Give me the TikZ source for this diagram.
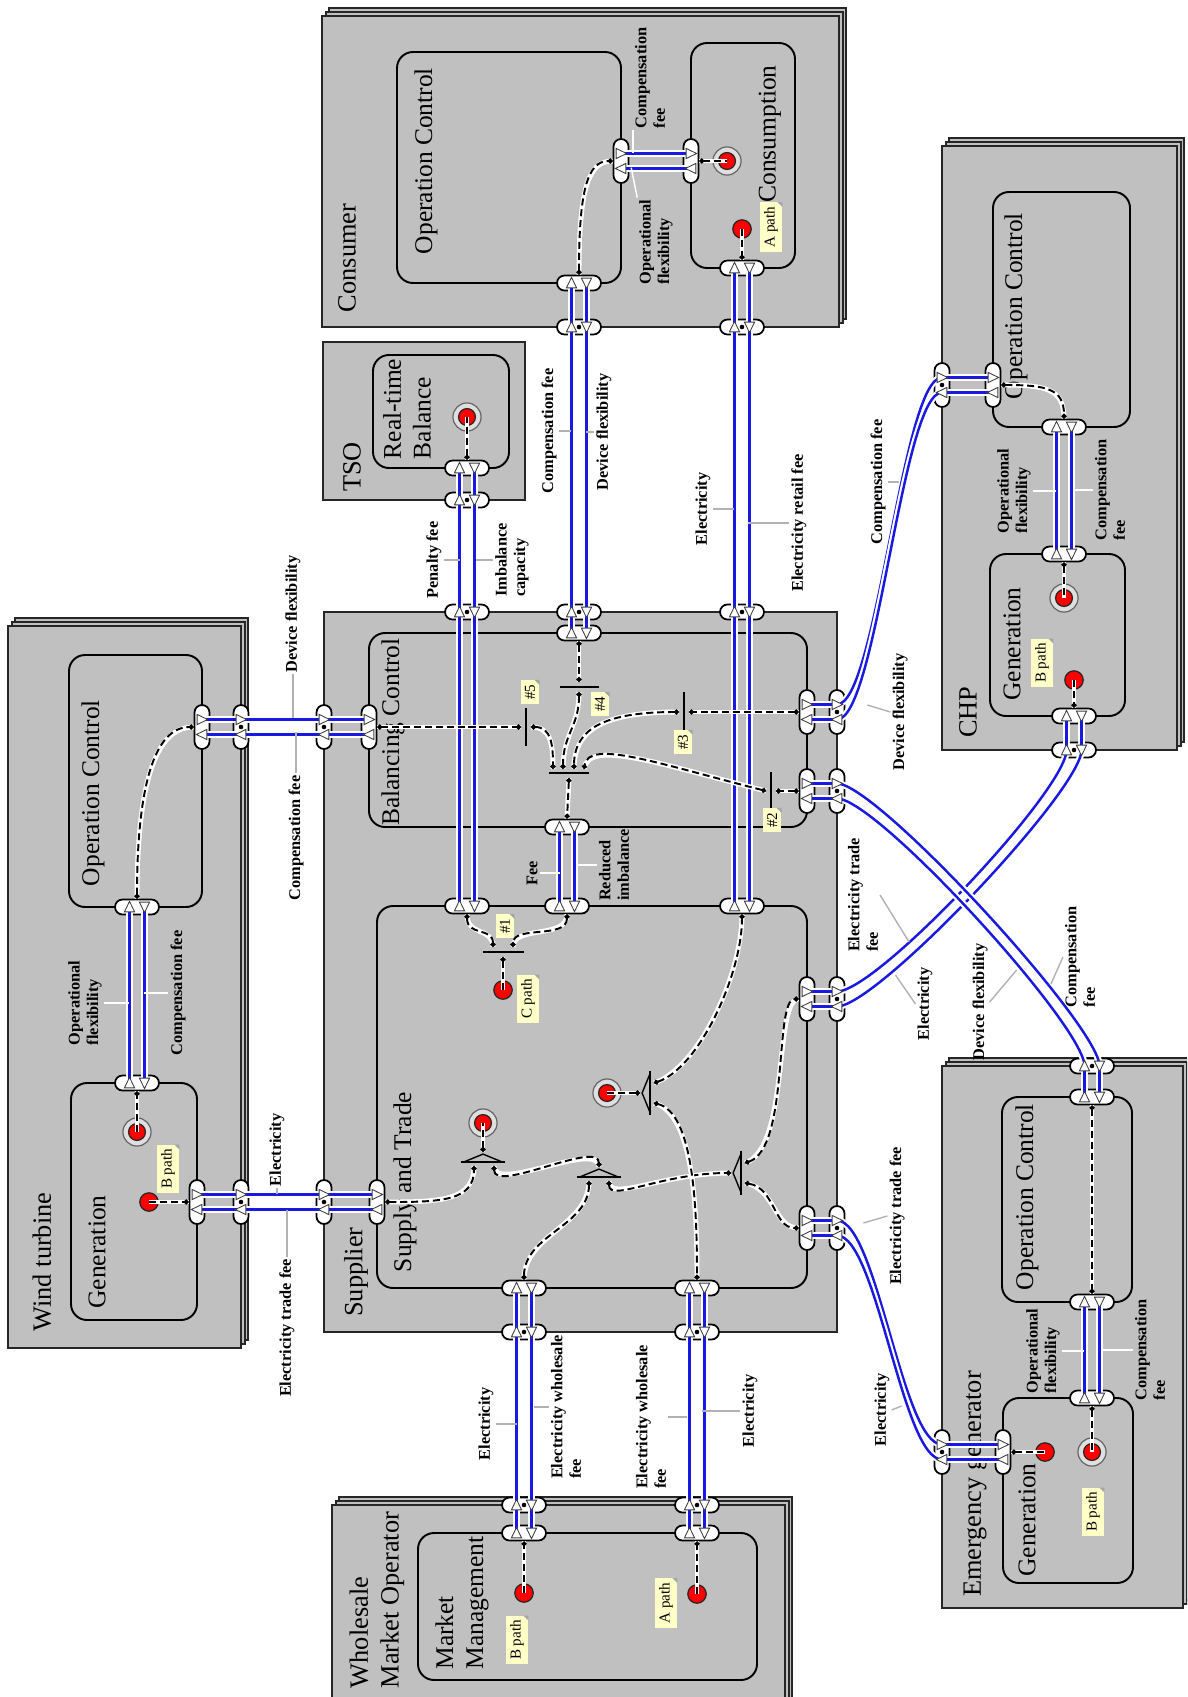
\documentclass[tikz,border=0pt]{standalone}
\usepackage{fontspec}
\setmainfont{Liberation Serif}
\usetikzlibrary{arrows.meta}

\definecolor{boxgray}{RGB}{192,192,192}
\definecolor{flowblue}{RGB}{25,25,225}
\definecolor{noteyellow}{RGB}{255,255,200}

\newlength{\flowgap}
\setlength{\flowgap}{0.15cm}

\tikzset{
  outerbox/.style={draw=black!85, line width=1pt, fill=boxgray},
  innerbox/.style={draw=black, line width=1.1pt, fill=boxgray, rounded corners=0.32cm},
  boxtitle/.style={rotate=90, font=\fontsize{15}{17.5}\selectfont, inner sep=0pt, align=left},
  subtitle/.style={rotate=90, font=\fontsize{14.5}{17}\selectfont, inner sep=0pt, align=left},
  hport/.style={draw=black, line width=1pt, fill=white, rounded corners=0.15cm,
    minimum width=0.88cm, minimum height=0.3cm, inner sep=0pt},
  vport/.style={hport, minimum width=0.3cm, minimum height=0.88cm},
  flow/.style={draw=flowblue, line width=1.4pt, preaction={draw=white, line width=3.8pt}},
  ctrl/.style={draw=black, line width=1.1pt, dash pattern=on 4pt off 2.2pt,
    preaction={draw=white, line width=2.8pt, solid, arrows=-}},
  dotboth/.style={arrows={Circle[length=2.8pt]-Circle[length=2.8pt]}},
  dotend/.style={arrows={-Circle[length=2.8pt]}},
  dotstart/.style={arrows={Circle[length=2.8pt]-}},
  mergebar/.style={draw=black, line width=1pt},
  startpt/.style={circle, fill=red, draw=black!85, line width=0.7pt, minimum size=10.5pt, inner sep=0pt},
  endpt/.style={circle, fill=gray!25, draw=black!60, line width=0.7pt, minimum size=16pt, inner sep=0pt,
    path picture={\draw[black!85, fill=red, line width=0.7pt] (path picture bounding box.center) circle (4.8pt);}},
  pathtag/.style={rotate=90, fill=noteyellow, font=\fontsize{8.6}{9.5}\selectfont, inner sep=2.4pt},
  flowlab/.style={rotate=90, font=\bfseries\fontsize{9.3}{10.5}\selectfont, align=left, inner sep=1pt},
  leadout/.style={draw=gray!60, line width=0.8pt},
  leadin/.style={draw=white, line width=0.8pt},
  flowtip/.pic={\filldraw[fill=white, draw=black!75, line width=0.5pt]
    (3.2pt,0pt) -- (-2.8pt,2.9pt) -- (-2.8pt,-2.9pt) -- cycle;},
  joinup/.pic={\draw[line width=0.8pt, fill=boxgray] (-11pt,0pt) -- (0pt,4.5pt) -- (11pt,0pt);
    \draw[line width=0.9pt] (-12.5pt,0pt) -- (12.5pt,0pt);}
}

\newcommand{\stackbox}[4]{%
  \draw[outerbox] (#1+7,#2-8) rectangle (#3+7,#4-8);
  \draw[outerbox] (#1+4,#2-4) rectangle (#3+4,#4-4);
  \draw[outerbox] (#1,#2) rectangle (#3,#4);}
\newcommand{\vflows}[2]{%
  \draw[flow] ([xshift=-\flowgap]#1.center) -- ([xshift=-\flowgap]#2.center);
  \draw[flow] ([xshift=\flowgap]#1.center) -- ([xshift=\flowgap]#2.center);}
\newcommand{\hflows}[2]{%
  \draw[flow] ([yshift=\flowgap]#1.center) -- ([yshift=\flowgap]#2.center);
  \draw[flow] ([yshift=-\flowgap]#1.center) -- ([yshift=-\flowgap]#2.center);}
\newcommand{\vtips}[1]{%
  \pic[rotate=90] at ([xshift=-\flowgap]#1.center) {flowtip};
  \pic[rotate=-90] at ([xshift=\flowgap]#1.center) {flowtip};}
\newcommand{\htips}[1]{%
  \pic at ([yshift=\flowgap]#1.center) {flowtip};
  \pic[rotate=180] at ([yshift=-\flowgap]#1.center) {flowtip};}
\newcommand{\portdot}[1]{\fill[black] (#1.center) circle (1.3pt);}
\newcommand{\pathnote}[4]{%
  \node[pathtag] (#1) at (#2,#3) {#4};
  \fill[gray!70] (#1.south east) -- ++(-5,0) -- ++(5,5) -- cycle;}

\begin{document}
\begin{tikzpicture}[x=0.02cm, y=-0.02cm]
\useasboundingbox (0,0) rectangle (1187,1697);
\clip (0,0) rectangle (1187,1697);
\fill[white] (0,0) rectangle (1187,1697);

% outer boxes
\stackbox{8}{626}{241}{1348}
\stackbox{322}{16}{839}{327}
\stackbox{942}{146}{1177}{750}
\stackbox{942}{1066}{1183}{1608}
\stackbox{332}{1505}{785}{1720}
\draw[outerbox] (324,612) rectangle (837,1332);
\draw[outerbox] (323,342) rectangle (525,500);

% inner boxes
\draw[innerbox] (69,655) rectangle (202,907);
\draw[innerbox] (71,1083) rectangle (197,1320);
\draw[innerbox] (369,633) rectangle (807,827);
\draw[innerbox] (377,906) rectangle (807,1288);
\draw[innerbox] (373,355) rectangle (509,468);
\draw[innerbox] (397,52) rectangle (621,283);
\draw[innerbox] (691,43) rectangle (795,268);
\draw[innerbox] (993,192) rectangle (1130,427);
\draw[innerbox] (990,554) rectangle (1125,716);
\draw[innerbox] (1002,1097) rectangle (1132,1302);
\draw[innerbox] (1003,1398) rectangle (1133,1583);
\draw[innerbox] (418,1533) rectangle (757,1680);

% titles
\node[boxtitle] (twt) at (42,1262) {Wind turbine};
\node[subtitle] (twtoc) at (93,793) {Operation Control};
\node[subtitle] (twtgen) at (97,1252) {Generation};
\node[boxtitle] (tsup) at (356,1272) {Supplier};
\node[subtitle] (tbc) at (393,732) {Balancing Control};
\node[subtitle] (tst) at (405,1182) {Supply and Trade};
\node[boxtitle] (ttso) at (352,467) {TSO};
\node[subtitle] (trtb) at (407,409) {Real-time\\Balance};
\node[boxtitle] (tcon) at (347,258) {Consumer};
\node[subtitle] (tcoc) at (426,161) {Operation Control};
\node[subtitle] (tcns) at (770,134) {Consumption};
\node[boxtitle] (tchp) at (968,712) {CHP};
\node[subtitle] (tchpoc) at (1016,306) {Operation Control};
\node[subtitle] (tchpgen) at (1012,644) {Generation};
\node[boxtitle] (teg) at (975,1484) {Emergency generator};
\node[subtitle] (tegoc) at (1027,1197) {Operation Control};
\node[subtitle] (teggen) at (1027,1520) {Generation};
\node[boxtitle] (twmo) at (377,1600) {Wholesale\\Market Operator};
\node[subtitle] (tmm) at (462,1603) {Market\\Management};

% ports on horizontal edges
\node[hport] (wtOCb) at (137,907) {};
\node[hport] (wtGt) at (137,1083) {};
\node[hport] (rtbB) at (467,468) {};
\node[hport] (tsoB) at (467,500) {};
\node[hport] (supT1) at (467,612) {};
\node[hport] (stT1) at (467,906) {};
\node[hport] (cocB) at (579,283) {};
\node[hport] (conB1) at (579,327) {};
\node[hport] (supT2) at (579,612) {};
\node[hport] (bcT) at (579,633) {};
\node[hport] (cnsB) at (742,268) {};
\node[hport] (conB2) at (742,327) {};
\node[hport] (supT3) at (742,612) {};
\node[hport] (stT3) at (742,906) {};
\node[hport] (bcB) at (567,827) {};
\node[hport] (stT2) at (567,906) {};
\node[hport] (stB1) at (524,1288) {};
\node[hport] (supB1) at (524,1332) {};
\node[hport] (wmoT1) at (524,1505) {};
\node[hport] (mmT1) at (524,1533) {};
\node[hport] (stB2) at (697,1288) {};
\node[hport] (supB2) at (697,1332) {};
\node[hport] (wmoT2) at (697,1505) {};
\node[hport] (mmT2) at (697,1533) {};
\node[hport] (chpOCb) at (1064,427) {};
\node[hport] (chpGt) at (1064,554) {};
\node[hport] (chpGb) at (1074,716) {};
\node[hport] (chpB) at (1074,750) {};
\node[hport] (egT) at (1092,1066) {};
\node[hport] (egOCt) at (1092,1097) {};
\node[hport] (egOCb) at (1092,1302) {};
\node[hport] (egGt) at (1092,1398) {};

% ports on vertical edges
\node[vport] (wtOCr) at (202,727) {};
\node[vport] (wtR1) at (241,727) {};
\node[vport] (supL1) at (324,727) {};
\node[vport] (bcL) at (369,727) {};
\node[vport] (wtGr) at (197,1202) {};
\node[vport] (wtR2) at (241,1202) {};
\node[vport] (supL2) at (324,1202) {};
\node[vport] (stL) at (377,1202) {};
\node[vport] (cocR) at (621,161) {};
\node[vport] (cnsL) at (691,161) {};
\node[vport] (bcR1) at (807,712) {};
\node[vport] (supR1) at (837,712) {};
\node[vport] (bcR2) at (807,791) {};
\node[vport] (supR2) at (837,791) {};
\node[vport] (stR1) at (807,999) {};
\node[vport] (supR3) at (837,999) {};
\node[vport] (stR2) at (807,1228) {};
\node[vport] (supR4) at (837,1228) {};
\node[vport] (chpL) at (942,385) {};
\node[vport] (chpOCl) at (993,385) {};
\node[vport] (egL) at (942,1452) {};
\node[vport] (egGl) at (1003,1452) {};

% flows
\vflows{wtOCb}{wtGt}
\vflows{rtbB}{stT1}
\vflows{cocB}{bcT}
\vflows{cnsB}{stT3}
\vflows{bcB}{stT2}
\vflows{stB1}{mmT1}
\vflows{stB2}{mmT2}
\vflows{chpOCb}{chpGt}
\vflows{chpGb}{chpB}
\vflows{egT}{egOCt}
\vflows{egOCb}{egGt}
\hflows{wtOCr}{bcL}
\hflows{wtGr}{stL}
\hflows{cocR}{cnsL}
\hflows{chpL}{chpOCl}
\hflows{egL}{egGl}
\hflows{bcR1}{supR1}
\hflows{bcR2}{supR2}
\hflows{stR1}{supR3}
\hflows{stR2}{supR4}
% supplier to CHP and emergency generator
\draw[flow] ([yshift=\flowgap]supR1.center) .. controls +(40,0) and +(-40,0) .. ([yshift=\flowgap]chpL.center);
\draw[flow] ([yshift=-\flowgap]supR1.center) .. controls +(40,0) and +(-40,0) .. ([yshift=-\flowgap]chpL.center);
\draw[flow] ([yshift=\flowgap]supR3.center) .. controls +(40,0) and +(0,40) .. ([xshift=-\flowgap]chpB.center);
\draw[flow] ([yshift=-\flowgap]supR3.center) .. controls +(40,0) and +(0,40) .. ([xshift=\flowgap]chpB.center);
\draw[flow] ([yshift=\flowgap]supR2.center) .. controls +(40,0) and +(0,-40) .. ([xshift=\flowgap]egT.center);
\draw[flow] ([yshift=-\flowgap]supR2.center) .. controls +(40,0) and +(0,-40) .. ([xshift=-\flowgap]egT.center);
\draw[flow] ([yshift=\flowgap]supR4.center) .. controls +(40,0) and +(-40,0) .. ([yshift=\flowgap]egL.center);
\draw[flow] ([yshift=-\flowgap]supR4.center) .. controls +(40,0) and +(-40,0) .. ([yshift=-\flowgap]egL.center);

\foreach \p in {wtOCb,wtGt,rtbB,tsoB,supT1,stT1,cocB,conB1,supT2,bcT,cnsB,conB2,supT3,stT3,
  bcB,stT2,stB1,supB1,wmoT1,mmT1,stB2,supB2,wmoT2,mmT2,chpOCb,chpGt,chpGb,chpB,egT,egOCt,egOCb,egGt}
  {\vtips{\p}}
\foreach \p in {wtOCr,wtR1,supL1,bcL,wtGr,wtR2,supL2,stL,cocR,cnsL,chpL,chpOCl,egL,egGl,
  bcR1,supR1,bcR2,supR2,stR1,supR3,stR2,supR4}
  {\htips{\p}}
\foreach \p in {wtR1,supL1,wtR2,supL2,tsoB,supT1,conB1,supT2,conB2,supT3,supB1,supB2,
  wmoT1,wmoT2,supR1,supR2,supR3,supR4,chpL,chpB,egT,egL}
  {\portdot{\p}}

% wind turbine control
\node[startpt] (wtS) at (149,1202) {};
\node[endpt] (wtE) at (137,1132) {};
\draw[ctrl, dotend] (wtS.center) -- (wtGr.west);
\draw[ctrl, dotend] (wtE.center) -- (wtGt.south);
\draw[ctrl, dotboth] (wtOCb.north) .. controls +(0,-110) and +(-40,0) .. (wtOCr.west);

% consumer control
\node[endpt] (cnsE) at (727,161) {};
\node[startpt] (cnsS) at (742,229) {};
\draw[ctrl, dotboth] (cocB.north) .. controls +(0,-85) and +(-25,0) .. (cocR.west);
\draw[ctrl, dotstart] (cnsL.east) -- (cnsE.center);
\draw[ctrl, dotend] (cnsS.center) -- (cnsB.north);

% TSO control
\node[endpt] (tsoE) at (467,417) {};
\draw[ctrl, dotstart] (rtbB.north) -- (tsoE.center);

% CHP control
\node[endpt] (chpE) at (1064,598) {};
\node[startpt] (chpS) at (1074,680) {};
\draw[ctrl, dotboth] (chpOCl.east) .. controls +(45,0) and +(0,-30) .. (chpOCb.north);
\draw[ctrl, dotstart] (chpGt.south) -- (chpE.center);
\draw[ctrl, dotend] (chpS.center) -- (chpGb.north);

% emergency generator control
\node[startpt] (egS) at (1045,1452) {};
\node[endpt] (egE) at (1092,1452) {};
\draw[ctrl, dotboth] (egOCt.south) -- (egOCb.north);
\draw[ctrl, dotstart] (egGl.east) -- (egS.center);
\draw[ctrl, dotstart] (egGt.south) -- (egE.center);

% market management control
\node[startpt] (mmS1) at (524,1593) {};
\node[startpt] (mmS2) at (697,1594) {};
\draw[ctrl, dotend] (mmS1.center) -- (mmT1.south);
\draw[ctrl, dotend] (mmS2.center) -- (mmT2.south);

% balancing control
\coordinate (b4t) at (579,682);
\coordinate (b4b) at (579,692);
\coordinate (b5l) at (521,727);
\coordinate (b5r) at (531,727);
\coordinate (b3l) at (679,712);
\coordinate (b3r) at (689,712);
\coordinate (b2l) at (766,791);
\coordinate (b2r) at (776,791);
\coordinate (m1) at (553,769);
\coordinate (m2) at (563,769);
\coordinate (m3) at (574,769);
\coordinate (m4) at (584,769);
\coordinate (mo) at (569,778);
\draw[mergebar] (560,687) -- (599,687);
\draw[mergebar] (526,708) -- (526,746);
\draw[mergebar] (684,692) -- (684,730);
\draw[mergebar] (771,772) -- (771,809);
\draw[mergebar] (549,773) -- (589,773);
\draw[ctrl, dotboth] (bcT.south) -- (b4t);
\draw[ctrl, dotboth] (b4b) .. controls +(0,35) and +(0,-35) .. (m2);
\draw[ctrl, dotboth] (bcL.east) -- (b5l);
\draw[ctrl, dotboth] (b5r) .. controls +(20,0) and +(0,-25) .. (m1);
\draw[ctrl, dotboth] (bcR1.west) -- (b3r);
\draw[ctrl, dotboth] (b3l) .. controls +(-75,0) and +(0,-40) .. (m3);
\draw[ctrl, dotboth] (bcR2.west) -- (b2r);
\draw[ctrl, dotboth] (b2l) .. controls +(-110,-28) and +(5,-30) .. (m4);
\draw[ctrl, dotboth] (mo) -- (bcB.north);

% supply and trade
\coordinate (j1a) at (493,947);
\coordinate (j1b) at (513,947);
\coordinate (j1o) at (503,957);
\draw[mergebar] (483,952) -- (524,952);
\node[startpt] (stS) at (503,990) {};
\draw[ctrl, dotboth] (stT1.south) .. controls +(0,22) and +(0,-20) .. (j1a);
\draw[ctrl, dotboth] (stT2.south) .. controls +(0,25) and +(0,-22) .. (j1b);
\draw[ctrl, dotstart] (j1o) -- (stS.center);

\pic at (483,1162) {joinup};
\coordinate (f1o) at (483,1152);
\coordinate (f1a) at (474,1166);
\coordinate (f1b) at (494,1166);
\node[endpt] (stE1) at (483,1123) {};
\draw[ctrl, dotstart] (f1o) -- (stE1.center);
\draw[ctrl, dotboth] (stL.east) .. controls +(55,0) and +(0,35) .. (f1a);

\pic at (599,1177) {joinup};
\coordinate (f2o) at (599,1167);
\coordinate (f2a) at (589,1181);
\coordinate (f2b) at (609,1181);
\draw[ctrl, dotboth] (f1b) .. controls +(0,28) and +(0,-28) .. (f2o);
\draw[ctrl, dotboth] (f2a) .. controls +(0,45) and +(0,-45) .. (stB1.north);

\pic[rotate=90] at (741,1173) {joinup};
\coordinate (f3o) at (731,1173);
\coordinate (f3a) at (745,1163);
\coordinate (f3b) at (745,1183);
\draw[ctrl, dotboth] (f2b) .. controls +(0,22) and +(-70,0) .. (f3o);
\draw[ctrl, dotboth] (f3a) .. controls +(45,-15) and +(-25,0) .. (stR1.west);
\draw[ctrl, dotboth] (f3b) .. controls +(30,5) and +(-25,0) .. (stR2.west);

\pic[rotate=90] at (650,1093) {joinup};
\coordinate (f4o) at (640,1093);
\coordinate (f4a) at (654,1083);
\coordinate (f4b) at (654,1103);
\node[endpt] (stE2) at (607,1093) {};
\draw[ctrl, dotstart] (f4o) -- (stE2.center);
\draw[ctrl, dotboth] (f4a) .. controls +(45,-15) and +(0,60) .. (stT3.south);
\draw[ctrl, dotboth] (f4b) .. controls +(40,10) and +(0,-70) .. (stB2.north);

% path notes
\pathnote{nwt}{168}{1169}{B path}
\pathnote{ncns}{771}{227}{A path}
\pathnote{nchp}{1042}{663}{B path}
\pathnote{neg}{1093}{1512}{B path}
\pathnote{nmm1}{517}{1640}{B path}
\pathnote{nmm2}{666}{1603}{A path}
\pathnote{nst}{528}{999}{C path}
\pathnote{n1}{505}{926}{\#1}
\pathnote{n2}{772}{820}{\#2}
\pathnote{n3}{683}{742}{\#3}
\pathnote{n4}{600}{704}{\#4}
\pathnote{n5}{530}{692}{\#5}

% flow labels
\node[flowlab] (lwof) at (85,1003) {Operational\\flexibility};
\node[flowlab] (lwcf) at (178,993) {Compensation fee};
\draw[leadin] (lwof.south) -- ++(25,0);
\draw[leadin] (lwcf.north) -- ++(-24,0);

\node[flowlab] (lpen) at (434,560) {Penalty fee};
\node[flowlab] (limb) at (512,560) {Imbalance\\capacity};
\draw[leadout] (lpen.south) -- ++(16,0);
\draw[leadout] (limb.north) -- ++(-17,0);

\node[flowlab] (lccf) at (549,431) {Compensation fee};
\node[flowlab] (lcdf) at (604,432) {Device flexibility};
\draw[leadout] (lccf.south) -- ++(12,0);
\draw[leadout] (lcdf.north) -- ++(-8,0);

\node[flowlab] (lel1) at (703,509) {Electricity};
\node[flowlab] (lerf) at (799,523) {Electricity retail fee};
\draw[leadout] (lel1.south) -- ++(21,0);
\draw[leadout] (lerf.north) -- ++(-41,0);

\node[flowlab] (lfee) at (532,873) {Fee};
\node[flowlab] (lred) at (614,865) {Reduced\\imbalance};
\draw[leadin] (lfee.south) -- ++(20,0);
\draw[leadin] (lred.north) -- ++(-20,0);

\node[flowlab] (lwe1) at (486,1424) {Electricity};
\node[flowlab] (lwf1) at (566,1407) {Electricity wholesale\\fee};
\node[flowlab] (lwf2) at (651,1417) {Electricity wholesale\\fee};
\node[flowlab] (lwe2) at (750,1411) {Electricity};
\draw[leadout] (lwe1.south) -- ++(21,0);
\draw[leadout] (lwf1.north) -- ++(-15,0);
\draw[leadout] (lwf2.south) -- ++(19,0);
\draw[leadout] (lwe2.north) -- ++(-38,0);

\node[flowlab] (lcof) at (1014,491) {Operational\\flexibility};
\node[flowlab] (lccf2) at (1110,490) {Compensation\\fee};
\draw[leadin] (lcof.south) -- ++(23,0);
\draw[leadin] (lccf2.north) -- ++(-19,0);

\node[flowlab] (leof) at (1043,1351) {Operational\\flexibility};
\node[flowlab] (lecf) at (1150,1350) {Compensation\\fee};
\draw[leadin] (leof.south) -- ++(22,0);
\draw[leadin] (lecf.north) -- ++(-31,0);

\node[flowlab] (lwdf) at (293,614) {Device flexibility};
\node[flowlab] (lwcf2) at (296,838) {Compensation fee};
\draw[leadout] (lwdf.west) -- ++(0,44);
\draw[leadout] (lwcf2.east) -- ++(0,-41);

\node[flowlab] (lwe3) at (277,1150) {Electricity};
\node[flowlab] (lwtf) at (287,1328) {Electricity trade fee};
\draw[leadout] (lwe3.west) -- ++(0,6);
\draw[leadout] (lwtf.east) -- ++(0,-47);

\node[flowlab] (lccf3) at (650,78) {Compensation\\fee};
\node[flowlab] (lcof2) at (656,242) {Operational\\flexibility};
\draw[leadin] (lccf3.north west) -- ++(0,23);
\draw[leadin] (lcof2.north east) -- ++(-6,-30);

\node[flowlab] (lcc4) at (878,482) {Compensation fee};
\node[flowlab] (ldf4) at (900,712) {Device flexibility};
\draw[leadout] (lcc4.south) -- ++(11,0);
\draw[leadout] (ldf4.north) -- ++(-23,-7);

\node[flowlab] (let5) at (863,895) {Electricity trade\\fee};
\node[flowlab] (lel5) at (925,1004) {Electricity};
\draw[leadout] (let5.south) -- ++(29,47);
\draw[leadout] (lel5.north) -- ++(-20,-29);

\node[flowlab] (ldf6) at (980,1002) {Device flexibility};
\node[flowlab] (lcc6) at (1080,957) {Compensation\\fee};
\draw[leadout] (ldf6.south) -- ++(27,-32);
\draw[leadout] (lcc6.north) -- ++(-12,27);

\node[flowlab] (let7) at (897,1216) {Electricity trade fee};
\node[flowlab] (lel7) at (882,1410) {Electricity};
\draw[leadout] (let7.north) -- ++(-24,7);
\draw[leadout] (lel7.south) -- ++(10,-4);

\end{tikzpicture}
\end{document}
